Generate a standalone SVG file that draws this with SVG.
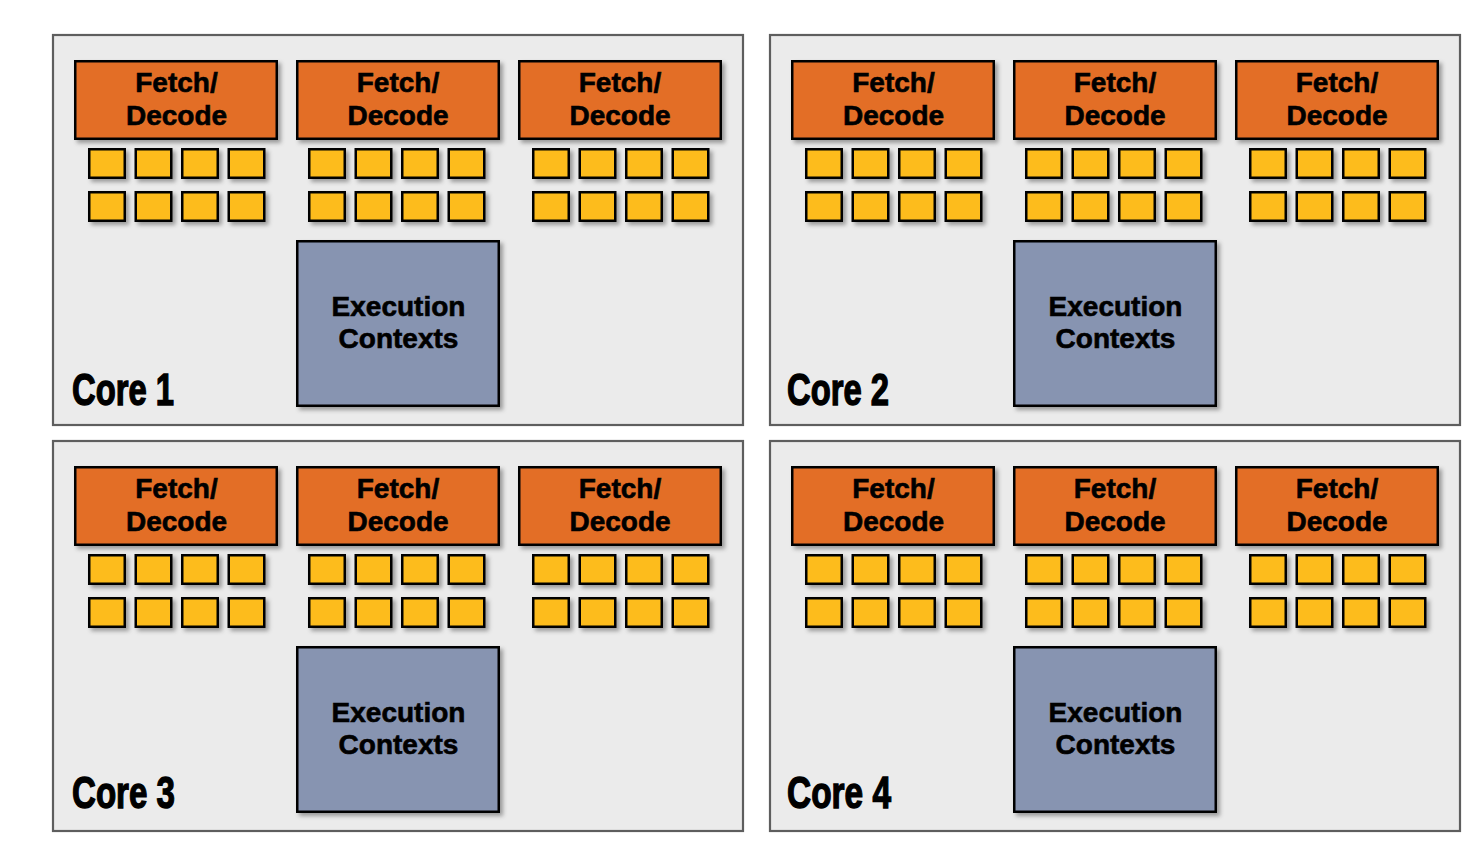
<svg xmlns="http://www.w3.org/2000/svg" xmlns:xlink="http://www.w3.org/1999/xlink" width="1478" height="860" viewBox="0 0 1478 860">
<style>
.panel{fill:#ebebeb;stroke:#5e5e5e;stroke-width:2.2}
.fetch{fill:#e36e26;stroke:#000;stroke-width:2.5;filter:url(#sh)}
.sq{fill:#fdbc1d;stroke:#000;stroke-width:2.5;filter:url(#sh)}
.exec{fill:#8794b1;stroke:#000;stroke-width:2.5;filter:url(#sh)}
.t{font-family:"Liberation Sans",Arial,sans-serif;font-weight:bold;font-size:28px;fill:#000;stroke:#000;stroke-width:0.6;text-anchor:middle}
.core{font-family:"Liberation Sans",Arial,sans-serif;font-weight:bold;font-size:45px;fill:#000;stroke:#000;stroke-width:1.4}
</style>
<defs>
<filter id="sh" x="-20%" y="-20%" width="150%" height="150%">
<feDropShadow dx="3" dy="3" stdDeviation="2" flood-color="#000" flood-opacity="0.35"/>
</filter>
<g id="sqgrp">
<rect class="sq" x="1.25" y="1.25" width="35.5" height="28.5"/>
<rect class="sq" x="47.75" y="1.25" width="35.5" height="28.5"/>
<rect class="sq" x="94.25" y="1.25" width="35.5" height="28.5"/>
<rect class="sq" x="140.75" y="1.25" width="35.5" height="28.5"/>
<rect class="sq" x="1.25" y="44.25" width="35.5" height="28.5"/>
<rect class="sq" x="47.75" y="44.25" width="35.5" height="28.5"/>
<rect class="sq" x="94.25" y="44.25" width="35.5" height="28.5"/>
<rect class="sq" x="140.75" y="44.25" width="35.5" height="28.5"/>
</g>
</defs>
<rect width="1478" height="860" fill="#fff"/>

<g id="core1">
<rect class="panel" x="53" y="35" width="690" height="390"/>
<g id="core1-fd1"><rect class="fetch" x="75.25" y="61.25" width="201.5" height="77.5"/><text class="t" x="176.5" y="92">Fetch/</text><text class="t" x="176.5" y="125">Decode</text></g>
<g id="core1-fd2"><rect class="fetch" x="297.25" y="61.25" width="201.5" height="77.5"/><text class="t" x="398" y="92">Fetch/</text><text class="t" x="398" y="125">Decode</text></g>
<g id="core1-fd3"><rect class="fetch" x="519.25" y="61.25" width="201.5" height="77.5"/><text class="t" x="620" y="92">Fetch/</text><text class="t" x="620" y="125">Decode</text></g>
<g id="core1-alu1"><use xlink:href="#sqgrp" href="#sqgrp" x="88" y="148"/></g>
<g id="core1-alu2"><use xlink:href="#sqgrp" href="#sqgrp" x="308" y="148"/></g>
<g id="core1-alu3"><use xlink:href="#sqgrp" href="#sqgrp" x="532" y="148"/></g>
<g id="core1-ctx"><rect class="exec" x="297.25" y="241.25" width="201.5" height="164.5"/><text class="t" x="398.5" y="316">Execution</text><text class="t" x="398.5" y="348">Contexts</text></g>
<text class="core" x="72" y="405" textLength="102" lengthAdjust="spacingAndGlyphs">Core 1</text>
</g>

<g id="core2" transform="translate(717,0)">
<rect class="panel" x="53" y="35" width="690" height="390"/>
<g id="core2-fd1"><rect class="fetch" x="75.25" y="61.25" width="201.5" height="77.5"/><text class="t" x="176.5" y="92">Fetch/</text><text class="t" x="176.5" y="125">Decode</text></g>
<g id="core2-fd2"><rect class="fetch" x="297.25" y="61.25" width="201.5" height="77.5"/><text class="t" x="398" y="92">Fetch/</text><text class="t" x="398" y="125">Decode</text></g>
<g id="core2-fd3"><rect class="fetch" x="519.25" y="61.25" width="201.5" height="77.5"/><text class="t" x="620" y="92">Fetch/</text><text class="t" x="620" y="125">Decode</text></g>
<g id="core2-alu1"><use xlink:href="#sqgrp" href="#sqgrp" x="88" y="148"/></g>
<g id="core2-alu2"><use xlink:href="#sqgrp" href="#sqgrp" x="308" y="148"/></g>
<g id="core2-alu3"><use xlink:href="#sqgrp" href="#sqgrp" x="532" y="148"/></g>
<g id="core2-ctx"><rect class="exec" x="297.25" y="241.25" width="201.5" height="164.5"/><text class="t" x="398.5" y="316">Execution</text><text class="t" x="398.5" y="348">Contexts</text></g>
<text class="core" x="70" y="405" textLength="102" lengthAdjust="spacingAndGlyphs">Core 2</text>
</g>

<g id="core3" transform="translate(0,406)">
<rect class="panel" x="53" y="35" width="690" height="390"/>
<g id="core3-fd1"><rect class="fetch" x="75.25" y="61.25" width="201.5" height="77.5"/><text class="t" x="176.5" y="92">Fetch/</text><text class="t" x="176.5" y="125">Decode</text></g>
<g id="core3-fd2"><rect class="fetch" x="297.25" y="61.25" width="201.5" height="77.5"/><text class="t" x="398" y="92">Fetch/</text><text class="t" x="398" y="125">Decode</text></g>
<g id="core3-fd3"><rect class="fetch" x="519.25" y="61.25" width="201.5" height="77.5"/><text class="t" x="620" y="92">Fetch/</text><text class="t" x="620" y="125">Decode</text></g>
<g id="core3-alu1"><use xlink:href="#sqgrp" href="#sqgrp" x="88" y="148"/></g>
<g id="core3-alu2"><use xlink:href="#sqgrp" href="#sqgrp" x="308" y="148"/></g>
<g id="core3-alu3"><use xlink:href="#sqgrp" href="#sqgrp" x="532" y="148"/></g>
<g id="core3-ctx"><rect class="exec" x="297.25" y="241.25" width="201.5" height="164.5"/><text class="t" x="398.5" y="316">Execution</text><text class="t" x="398.5" y="348">Contexts</text></g>
<text class="core" x="72" y="402" textLength="103" lengthAdjust="spacingAndGlyphs">Core 3</text>
</g>

<g id="core4" transform="translate(717,406)">
<rect class="panel" x="53" y="35" width="690" height="390"/>
<g id="core4-fd1"><rect class="fetch" x="75.25" y="61.25" width="201.5" height="77.5"/><text class="t" x="176.5" y="92">Fetch/</text><text class="t" x="176.5" y="125">Decode</text></g>
<g id="core4-fd2"><rect class="fetch" x="297.25" y="61.25" width="201.5" height="77.5"/><text class="t" x="398" y="92">Fetch/</text><text class="t" x="398" y="125">Decode</text></g>
<g id="core4-fd3"><rect class="fetch" x="519.25" y="61.25" width="201.5" height="77.5"/><text class="t" x="620" y="92">Fetch/</text><text class="t" x="620" y="125">Decode</text></g>
<g id="core4-alu1"><use xlink:href="#sqgrp" href="#sqgrp" x="88" y="148"/></g>
<g id="core4-alu2"><use xlink:href="#sqgrp" href="#sqgrp" x="308" y="148"/></g>
<g id="core4-alu3"><use xlink:href="#sqgrp" href="#sqgrp" x="532" y="148"/></g>
<g id="core4-ctx"><rect class="exec" x="297.25" y="241.25" width="201.5" height="164.5"/><text class="t" x="398.5" y="316">Execution</text><text class="t" x="398.5" y="348">Contexts</text></g>
<text class="core" x="70" y="402" textLength="104" lengthAdjust="spacingAndGlyphs">Core 4</text>
</g>

<g id="connectors"></g>
</svg>
